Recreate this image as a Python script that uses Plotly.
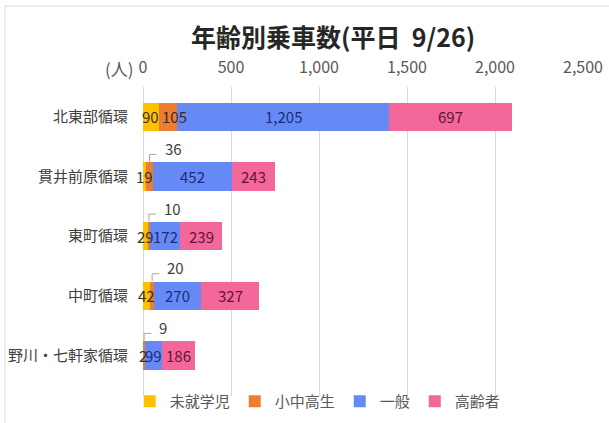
import plotly.graph_objects as go

categories = ["北東部循環", "貫井前原循環", "東町循環", "中町循環", "野川・七軒家循環"]
series_names = ["未就学児", "小中高生", "一般", "高齢者"]
preschool = [90, 19, 29, 42, 2]
students = [105, 36, 10, 20, 9]
general = [1205, 452, 172, 270, 99]
elderly = [697, 243, 239, 327, 186]
x_ticks = [0, 500, 1000, 1500, 2000, 2500]

colors = ["#FFC000", "#ED7D31", "#6589F5", "#F4679A"]
label_colors = ["#3a3020", "#3a2a20", "#1c2c7a", "#5c1535"]
FONT = "Noto Sans CJK JP, Noto Sans, sans-serif"

all_series = [preschool, students, general, elderly]
OUTSIDE_LIMIT = 50  # small 小中高生 values get a callout label

fig = go.Figure()
for k, (name, vals) in enumerate(zip(series_names, all_series)):
    fig.add_trace(go.Bar(
        name=name, y=categories, x=vals, orientation="h",
        marker=dict(color=colors[k], line=dict(width=0)),
        hoverinfo="skip",
    ))

# data labels (drawn on top of all bars)
for i, cat in enumerate(categories):
    start = 0
    for k, vals in enumerate(all_series):
        v = vals[i]
        txt = f"{v:,}"
        if k == 1 and v < OUTSIDE_LIMIT:
            xc = start + v / 2
            fig.add_shape(type="path", xref="x", yref="y",
                          path=f"M {xc},{i-0.25} L {xc},{i-0.37} L {xc+40},{i-0.37}",
                          line=dict(color="#a6a6a6", width=1))
            fig.add_annotation(x=xc, y=i, xref="x", yref="y", text=txt,
                               showarrow=False, xanchor="left", yanchor="middle",
                               xshift=13, yshift=28,
                               font=dict(family=FONT, size=15, color="#404040"))
        elif k == 1:
            fig.add_annotation(x=start, y=i, xref="x", yref="y", text=txt,
                               showarrow=False, xanchor="left", yanchor="middle",
                               xshift=1,
                               font=dict(family=FONT, size=15, color=label_colors[k]))
        else:
            fig.add_annotation(x=start + v / 2, y=i, xref="x", yref="y", text=txt,
                               showarrow=False, xanchor="center", yanchor="middle",
                               font=dict(family=FONT, size=15, color=label_colors[k]))
        start += v

fig.add_annotation(x=-0.054, y=1.061, xref="paper", yref="paper", text="(人)",
                   showarrow=False, xanchor="center", yanchor="middle",
                   font=dict(family=FONT, size=17, color="#595959"))

# outer chart border (left and top edges visible)
fig.add_shape(type="line", xref="paper", yref="paper",
              x0=-0.3136, x1=-0.3136, y0=-0.2, y1=1.262,
              line=dict(color="#d9d9d9", width=1), layer="below")
fig.add_shape(type="line", xref="paper", yref="paper",
              x0=-0.3136, x1=1.2, y0=1.262, y1=1.262,
              line=dict(color="#d9d9d9", width=1), layer="below")

fig.update_layout(
    width=609, height=423,
    barmode="stack", bargap=0.52,
    paper_bgcolor="white", plot_bgcolor="white",
    margin=dict(l=143, r=26, t=87, b=27, autoexpand=False),
    title=dict(text="<b>年齢別乗車数(平日\u00a0\u00a09/26)</b>", x=0.547, y=0.91,
               xref="container", yref="container",
               xanchor="center", yanchor="middle",
               font=dict(family=FONT, size=25, color="#262626")),
    font=dict(family=FONT, size=15, color="#595959"),
    xaxis=dict(side="top", range=[0, 2500], tickvals=x_ticks,
               ticktext=[f"{t:,}" for t in x_ticks],
               showgrid=True, gridcolor="#d9d9d9", gridwidth=1,
               zeroline=True, zerolinecolor="#d9d9d9", zerolinewidth=1,
               showline=False, ticks="", ticklabelstandoff=10,
               tickfont=dict(family=FONT, size=16, color="#595959"),
               automargin=False, fixedrange=True),
    yaxis=dict(autorange="reversed", showgrid=False, zeroline=False,
               showline=False, ticks="", ticklabelstandoff=14,
               tickfont=dict(family=FONT, size=15, color="#404040"),
               automargin=False, fixedrange=True),
    legend=dict(orientation="h", xref="container", x=0.213, xanchor="left",
                y=0.036, yanchor="top",
                font=dict(family=FONT, size=15, color="#595959"),
                traceorder="normal", bgcolor="rgba(0,0,0,0)"),
    showlegend=True,
)

fig.write_html("out.html", config={"displayModeBar": False},
               post_script=("document.body.style.margin='0';"
                            "document.body.style.overflow='hidden';"
                            "document.documentElement.style.overflow='hidden';"))
